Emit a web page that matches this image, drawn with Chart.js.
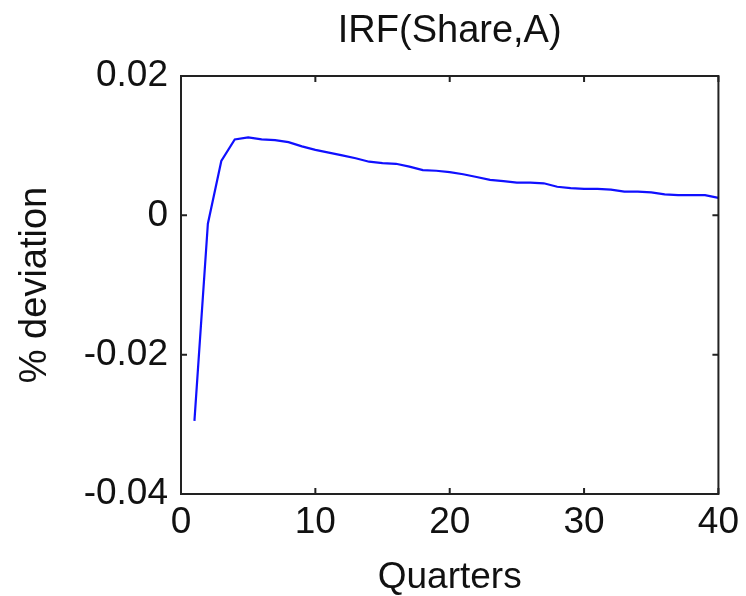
<!DOCTYPE html>
<html lang="en">
<head>
    <meta charset="UTF-8">
    <title>IRF(Share,A)</title>
    <script src="https://cdn.jsdelivr.net/npm/chart.js"></script>
    <style>
        html, body { margin: 0; padding: 0; background: #fff; }
        .wrap { width: 746px; height: 596px; }
    </style>
</head>
<body>
    <div class="wrap">
        <canvas id="irfChart" width="746" height="596"></canvas>
    </div>
    <script>
// impulse response of Share to the A shock, quarters 1..40
const quarters = [1, 2, 3, 4, 5, 6, 7, 8, 9, 10,
    11, 12, 13, 14, 15, 16, 17, 18, 19, 20,
    21, 22, 23, 24, 25, 26, 27, 28, 29, 30,
    31, 32, 33, 34, 35, 36, 37, 38, 39, 40];
const shareResponse = [-0.0295, -0.0012, 0.0078, 0.0109, 0.0112, 0.0109, 0.0108, 0.0105, 0.0099, 0.0094,
    0.0090, 0.0086, 0.0082, 0.0077, 0.0075, 0.0074, 0.0070, 0.0065, 0.0064, 0.0062,
    0.0059, 0.0055, 0.0051, 0.0049, 0.0047, 0.0047, 0.0046, 0.0041, 0.0039, 0.0038,
    0.0038, 0.0037, 0.0034, 0.0034, 0.0033, 0.0030, 0.0029, 0.0029, 0.0029, 0.0025];
const xTickValues = [0, 10, 20, 30, 40];
const xTickLabels = ['0', '10', '20', '30', '40'];
const yTickValues = [-0.04, -0.02, 0, 0.02];
const yTickLabels = ['-0.04', '-0.02', '0', '0.02'];

const FONT = "'Liberation Sans', Arial, sans-serif";

// box around the axes with short tick marks pointing inwards on every side
const axesBox = {
    id: 'axesBox',
    afterDraw(chart) {
        const { ctx, chartArea: a, scales } = chart;
        const len = 6;
        ctx.save();
        ctx.strokeStyle = '#222';
        ctx.lineWidth = 2;
        ctx.strokeRect(a.left, a.top, a.right - a.left, a.bottom - a.top);
        ctx.beginPath();
        xTickValues.forEach(v => {
            const x = scales.x.getPixelForValue(v);
            ctx.moveTo(x, a.bottom); ctx.lineTo(x, a.bottom - len);
            ctx.moveTo(x, a.top); ctx.lineTo(x, a.top + len);
        });
        yTickValues.forEach(v => {
            const y = scales.y.getPixelForValue(v);
            ctx.moveTo(a.left, y); ctx.lineTo(a.left + len, y);
            ctx.moveTo(a.right, y); ctx.lineTo(a.right - len, y);
        });
        ctx.stroke();
        ctx.restore();
    }
};

const ctx = document.getElementById('irfChart').getContext('2d');
const chart = new Chart(ctx, {
    type: 'line',
    data: {
        datasets: [{
            data: quarters.map((q, i) => ({ x: q, y: shareResponse[i] })),
            borderColor: '#1010ff',
            borderWidth: 2.2,
            pointRadius: 0,
            tension: 0,
            fill: false
        }]
    },
    options: {
        responsive: false,
        animation: false,
        layout: { padding: { left: 0, right: 27, top: 0, bottom: 0 } },
        plugins: {
            legend: { display: false },
            tooltip: { enabled: false },
            title: {
                display: true,
                fullSize: false,
                text: 'IRF(Share,A)',
                color: '#111',
                font: { family: FONT, size: 38, weight: 'normal', lineHeight: 1 },
                padding: { top: 13, bottom: 25 }
            }
        },
        scales: {
            x: {
                type: 'linear',
                min: 0,
                max: 40,
                grid: { display: false, drawTicks: false },
                border: { display: false },
                afterBuildTicks: s => { s.ticks = xTickValues.map(v => ({ value: v })); },
                afterFit: s => { s.height = 102; },
                ticks: {
                    color: '#111',
                    padding: 7,
                    maxRotation: 0,
                    font: { family: FONT, size: 37 },
                    callback: v => xTickLabels[xTickValues.indexOf(v)]
                },
                title: {
                    display: true,
                    text: 'Quarters',
                    color: '#111',
                    font: { family: FONT, size: 37, lineHeight: 1 },
                    padding: { top: 0, bottom: 0 }
                }
            },
            y: {
                type: 'linear',
                min: -0.04,
                max: 0.02,
                grid: { display: false, drawTicks: false },
                border: { display: false },
                afterBuildTicks: s => { s.ticks = yTickValues.map(v => ({ value: v })); },
                afterFit: s => { s.width = 181; },
                ticks: {
                    color: '#111',
                    padding: 13,
                    font: { family: FONT, size: 37 },
                    callback: v => yTickLabels[yTickValues.findIndex(t => Math.abs(t - v) < 1e-9)]
                },
                title: {
                    display: true,
                    text: '% deviation',
                    color: '#111',
                    font: { family: FONT, size: 38, lineHeight: 1 },
                    padding: { top: 17, bottom: 0 }
                }
            }
        }
    },
    plugins: [axesBox]
});
    </script>
</body>
</html>
